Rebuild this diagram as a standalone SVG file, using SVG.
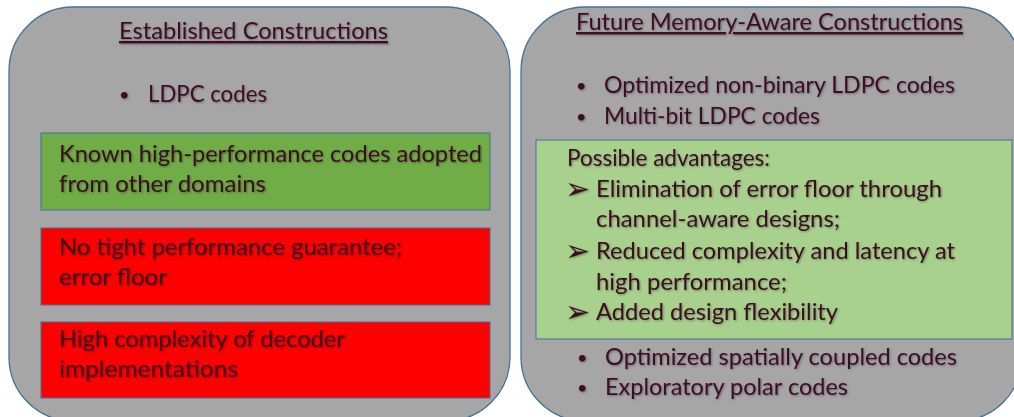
<svg xmlns="http://www.w3.org/2000/svg" width="1014" height="417" viewBox="0 0 1014 417">
<defs>
<filter id="sh" x="-5%" y="-20%" width="110%" height="140%">
<feDropShadow dx="1" dy="1" stdDeviation="0.8" flood-color="#000" flood-opacity="0.35"/>
</filter>
<style>
.panel{fill:#a6a6a6;stroke:#41719c;stroke-width:1.3}
.green{fill:#70ad47;stroke:#41719c;stroke-width:1}
.red{fill:#ff0000;stroke:#41719c;stroke-width:1}
.lgreen{fill:#a9d18e;stroke:#41719c;stroke-width:1}
text{font-family:Lato,"Open Sans","Liberation Sans",sans-serif;font-size:23.5px;fill:#3d0a22;filter:url(#sh)}
.u{text-decoration:underline}
.b{font-size:18px}
.sym{font-family:"DejaVu Sans",sans-serif;font-size:30px}
</style>
</defs>
<g id="left-panel">
<rect class="panel" x="9" y="7" width="501" height="414" rx="64" ry="64"/>
<text class="u" x="119" y="39" textLength="269" lengthAdjust="spacingAndGlyphs">Established Constructions</text>
<text class="b" x="119" y="101">•</text>
<text x="148" y="102" textLength="119" lengthAdjust="spacingAndGlyphs">LDPC codes</text>
</g>
<g id="known-codes">
<rect class="green" x="41" y="133" width="449" height="77"/>
<text x="59" y="162" textLength="423" lengthAdjust="spacingAndGlyphs">Known high-performance codes adopted</text>
<text x="59" y="192" textLength="207" lengthAdjust="spacingAndGlyphs">from other domains</text>
</g>
<g id="no-guarantee">
<rect class="red" x="41" y="228" width="449" height="77"/>
<text x="59" y="255" textLength="343" lengthAdjust="spacingAndGlyphs">No tight performance guarantee;</text>
<text x="59" y="285" textLength="108" lengthAdjust="spacingAndGlyphs">error floor</text>
</g>
<g id="high-complexity">
<rect class="red" x="41" y="322" width="449" height="76"/>
<text x="59" y="347" textLength="286" lengthAdjust="spacingAndGlyphs">High complexity of decoder</text>
<text x="59" y="377" textLength="179" lengthAdjust="spacingAndGlyphs">implementations</text>
</g>
<g id="right-panel">
<rect class="panel" x="521" y="7" width="501" height="414" rx="64" ry="64"/>
<text class="u" x="576" y="30" textLength="387" lengthAdjust="spacingAndGlyphs">Future Memory-Aware Constructions</text>
<text class="b" x="576" y="92">•</text>
<text x="604" y="93" textLength="351" lengthAdjust="spacingAndGlyphs">Optimized non-binary LDPC codes</text>
<text class="b" x="576" y="123">•</text>
<text x="604" y="124" textLength="216" lengthAdjust="spacingAndGlyphs">Multi-bit LDPC codes</text>
<text class="b" x="577" y="364">•</text>
<text x="605" y="365" textLength="352" lengthAdjust="spacingAndGlyphs">Optimized spatially coupled codes</text>
<text class="b" x="577" y="394">•</text>
<text x="605" y="395" textLength="243" lengthAdjust="spacingAndGlyphs">Exploratory polar codes</text>
</g>
<g id="advantages">
<rect class="lgreen" x="536" y="140" width="476" height="199"/>
<text x="567" y="166" textLength="203" lengthAdjust="spacingAndGlyphs">Possible advantages:</text>
<text class="sym" x="565" y="199">➢</text>
<text x="596" y="197" textLength="346" lengthAdjust="spacingAndGlyphs">Elimination of error floor through</text>
<text x="596" y="227" textLength="244" lengthAdjust="spacingAndGlyphs">channel-aware designs;</text>
<text class="sym" x="565" y="261">➢</text>
<text x="596" y="259" textLength="359" lengthAdjust="spacingAndGlyphs">Reduced complexity and latency at</text>
<text x="596" y="290" textLength="191" lengthAdjust="spacingAndGlyphs">high performance;</text>
<text class="sym" x="565" y="322">➢</text>
<text x="596" y="320" textLength="242" lengthAdjust="spacingAndGlyphs">Added design flexibility</text>
</g>
<g id="connectors"></g>
</svg>
